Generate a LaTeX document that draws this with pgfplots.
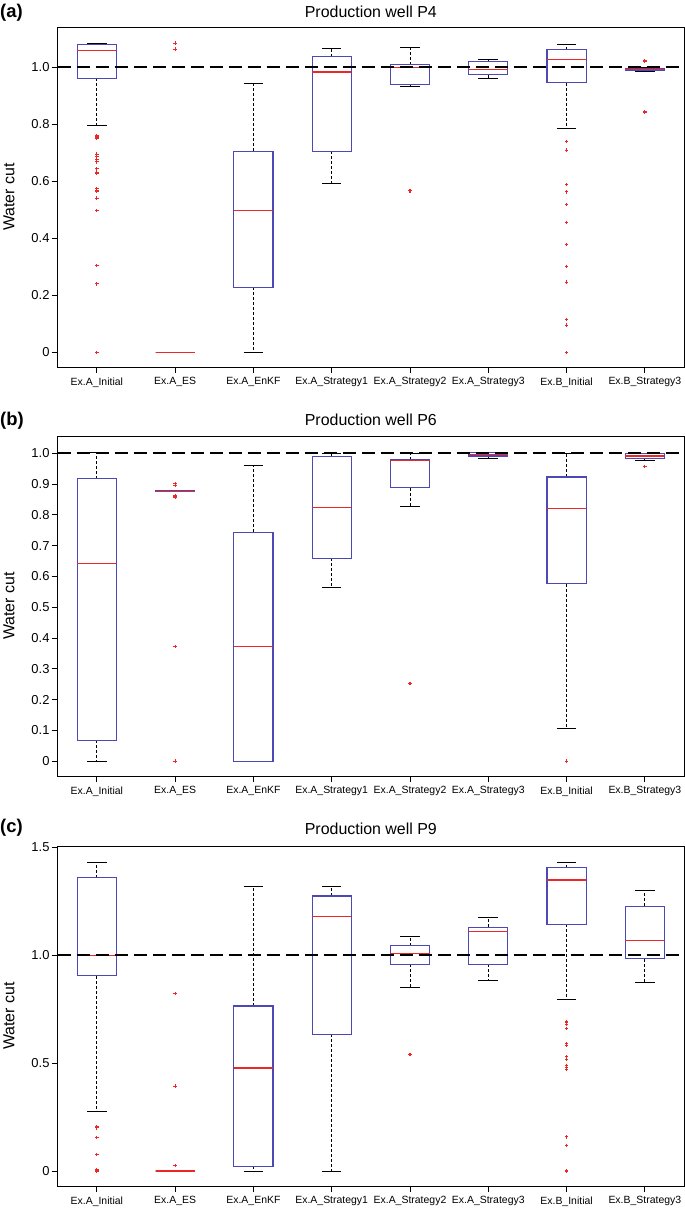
\documentclass[border=0pt]{standalone}
\usepackage{pgfplots}
\pgfplotsset{compat=1.18}
\usepgfplotslibrary{statistics}
\usepackage{fontspec}
\setmainfont{Liberation Sans}
\definecolor{boxblue}{RGB}{76,72,182}
\definecolor{medred}{RGB}{235,40,40}
\pgfplotsset{
  /pgfplots/boxplot/draw/lower whisker/.code={%
    \draw[black, line width=0.8bp, dash pattern=on 3bp off 2bp]
      (boxplot cs:\pgfplotsboxplotvalue{lower quartile}) -- (boxplot cs:\pgfplotsboxplotvalue{lower whisker});
    \draw[black, line width=1bp, solid]
      (boxplot whisker cs:\pgfplotsboxplotvalue{lower whisker},0) -- (boxplot whisker cs:\pgfplotsboxplotvalue{lower whisker},1);
  },
  /pgfplots/boxplot/draw/upper whisker/.code={%
    \draw[black, line width=0.8bp, dash pattern=on 3bp off 2bp]
      (boxplot cs:\pgfplotsboxplotvalue{upper quartile}) -- (boxplot cs:\pgfplotsboxplotvalue{upper whisker});
    \draw[black, line width=1bp, solid]
      (boxplot whisker cs:\pgfplotsboxplotvalue{upper whisker},0) -- (boxplot whisker cs:\pgfplotsboxplotvalue{upper whisker},1);
  },
  bpstyle/.style={boxblue, line width=1bp, mark=+, mark size=1.8bp,
     mark options={draw=medred, fill=medred, solid, line width=1.1bp},
     boxplot/draw direction=y,
     boxplot/box extend=0.5, boxplot/whisker extend=0.25,
     boxplot/every median/.style={draw=medred, line width=1.2bp},
     boxplot/every box/.style={draw=boxblue, line width=1.1bp}},
  outl/.style={only marks, mark=+, mark size=1.8bp, mark options={draw=medred, solid, line width=1.1bp}},
  wc/.style={scale only axis, width=626.3bp, height=340bp,
     xmin=0.5, xmax=8.5, xtick={1,...,8},
     xticklabels={Ex.A\_Initial,Ex.A\_ES,Ex.A\_EnKF,Ex.A\_Strategy1,Ex.A\_Strategy2,Ex.A\_Strategy3,Ex.B\_Initial,Ex.B\_Strategy3},
     tick align=outside, tick pos=left, major tick length=6bp,
     axis line style={black, line width=0.8bp},
     every tick/.style={black, line width=0.8bp},
     xticklabel style={font=\fontsize{10.5}{12}\selectfont, yshift=-1bp},
     yticklabel style={font=\fontsize{13}{15}\selectfont, inner sep=2bp},
     ylabel={Water cut},
     every axis y label/.style={at={(axis description cs:-0.0777,0.5)}, rotate=90, anchor=center, font=\fontsize{16}{19}\selectfont},
     every axis title/.style={at={(axis description cs:0.5,1)}, anchor=base, font=\fontsize{16}{19}\selectfont},
     clip=false},
  refline/.style={black, line width=2.2bp, dash pattern=on 13bp off 6bp, no marks}
}
% pos, lower whisker, lower quartile, median, upper quartile, upper whisker
\newcommand{\bp}[6]{%
  \addplot[bpstyle, boxplot prepared={draw position=#1, lower whisker=#2, lower quartile=#3, median=#4, upper quartile=#5, upper whisker=#6}] coordinates {};
}
\newcommand{\bpo}[7]{%
  \addplot[bpstyle, boxplot prepared={draw position=#1, lower whisker=#2, lower quartile=#3, median=#4, upper quartile=#5, upper whisker=#6}] table[row sep=\\, y index=0] {v\\ #7};
}
\begin{document}
\begin{tikzpicture}
\path[use as bounding box] (0,0) rectangle (685bp,-1208bp);
% ---------------- (a) ----------------
\begin{axis}[wc, at={(57.7bp,-367bp)}, anchor=south west,
  ymin=-0.051, ymax=1.141, ytick={0,0.2,0.4,0.6,0.8,1.0}, yticklabels={0,0.2,0.4,0.6,0.8,1.0},
  title={Production well P4}, title style={yshift=9.5bp}]
\bpo{1}{0.795}{0.962}{1.058}{1.081}{1.084}{0.759\\0.752\\0.695\\0.686\\0.678\\0.668\\0.644\\0.629\\0.574\\0.566\\0.541\\0.497\\0.305\\0.241\\0\\}
\bp{2}{0}{0}{0}{0}{0}
\addplot[outl] coordinates {(2,1.084) (2,1.063)};
\bp{3}{0}{0.229}{0.497}{0.706}{0.942}
\bp{4}{0.593}{0.706}{0.983}{1.037}{1.067}
\bpo{5}{0.933}{0.940}{0.999}{1.008}{1.070}{0.567\\}
\bp{6}{0.961}{0.973}{0.991}{1.021}{1.028}
\bpo{7}{0.786}{0.946}{1.028}{1.062}{1.081}{0.740\\0.709\\0.589\\0.563\\0.519\\0.455\\0.379\\0.302\\0.246\\0.116\\0.096\\0\\}
\bpo{8}{0.985}{0.988}{0.992}{0.994}{0.998}{1.023\\1.020\\0.843\\}
\addplot[refline] coordinates {(0.5,1) (8.5,1)};
\end{axis}
\node[anchor=base west, inner sep=0, font=\bfseries\fontsize{18.5}{20}\selectfont] at (0bp,-17.8bp) {(a)};
% ---------------- (b) ----------------
\begin{axis}[wc, at={(57.7bp,-776bp)}, anchor=south west,
  ymin=-0.048, ymax=1.056, ytick={0,0.1,...,1.0}, yticklabels={0,0.1,0.2,0.3,0.4,0.5,0.6,0.7,0.8,0.9,1.0},
  title={Production well P6}, title style={yshift=11bp}]
\bp{1}{0}{0.068}{0.642}{0.918}{1.004}
\bp{2}{0.875}{0.875}{0.877}{0.879}{0.879}
\addplot[outl] coordinates {(2,0.901) (2,0.896) (2,0.863) (2,0.858) (2,0.373) (2,0)};
\bp{3}{0}{0}{0.373}{0.744}{0.959}
\bp{4}{0.565}{0.659}{0.825}{0.988}{0.999}
\bpo{5}{0.828}{0.888}{0.976}{0.979}{1.0}{0.253\\}
\bp{6}{0.984}{0.991}{0.997}{1.002}{1.003}
\bpo{7}{0.107}{0.577}{0.820}{0.923}{1.0}{0\\}
\bpo{8}{0.977}{0.983}{0.991}{0.998}{1.0}{0.957\\}
\addplot[refline] coordinates {(0.5,1) (8.5,1)};
\end{axis}
\node[anchor=base west, inner sep=0, font=\bfseries\fontsize{18.5}{20}\selectfont] at (0bp,-425.4bp) {(b)};
% ---------------- (c) ----------------
\begin{axis}[wc, at={(57.7bp,-1186bp)}, anchor=south west,
  ymin=-0.0695, ymax=1.507, ytick={0,0.5,1.0,1.5}, yticklabels={0,0.5,1.0,1.5},
  title={Production well P9}, title style={yshift=11.7bp}]
\bpo{1}{0.278}{0.905}{1.0}{1.360}{1.429}{0.207\\0.200\\0.156\\0.076\\0.008\\0\\}
\bp{2}{0}{0}{0}{0}{0}
\addplot[outl] coordinates {(2,0.824) (2,0.394) (2,0.025)};
\bp{3}{0}{0.022}{0.478}{0.765}{1.321}
\bp{4}{0}{0.635}{1.179}{1.275}{1.321}
\bpo{5}{0.853}{0.958}{1.008}{1.045}{1.086}{0.541\\}
\bp{6}{0.885}{0.958}{1.110}{1.131}{1.174}
\bpo{7}{0.796}{1.144}{1.349}{1.406}{1.429}{0.691\\0.681\\0.661\\0.592\\0.584\\0.530\\0.519\\0.490\\0.479\\0.470\\0.158\\0.119\\0\\}
\bp{8}{0.873}{0.984}{1.070}{1.228}{1.303}
\addplot[refline] coordinates {(0.5,1) (8.5,1)};
\end{axis}
\node[anchor=base west, inner sep=0, font=\bfseries\fontsize{18.5}{20}\selectfont] at (0bp,-832.8bp) {(c)};
\end{tikzpicture}
\end{document}
